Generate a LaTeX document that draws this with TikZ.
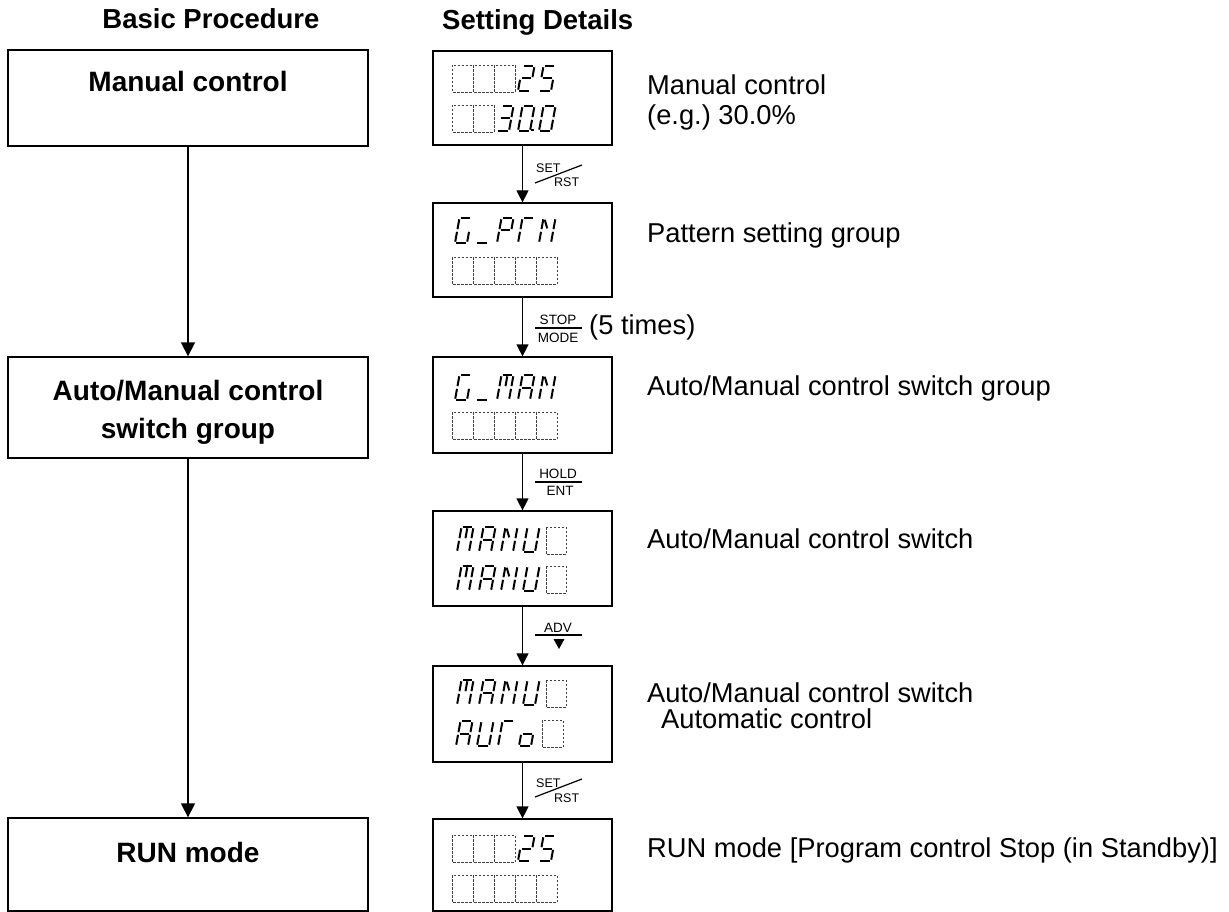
\documentclass[tikz,border=0pt]{standalone}
\usepackage{fontspec}
\setmainfont{Liberation Sans}
\usetikzlibrary{arrows.meta}
\frenchspacing
% seven-segment pieces (local coords: baseline at 0, top at -25)
\def\gsega{(4.3,-25)--(13.7,-25)}
\def\gsegb{(15,-23.7)--(15,-13.8)}
\def\gsegc{(15,-11.2)--(15,-1.3)}
\def\gsegd{(4.3,0)--(13.7,0)}
\def\gsege{(3,-11.2)--(3,-1.3)}
\def\gsegf{(3,-23.7)--(3,-13.8)}
\def\gsegg{(4.3,-12.5)--(13.7,-12.5)}
\def\gsegm{(9,-23.7)--(9,-13.8)}
\def\gsegn{(4.6,-23.2)--(8.6,-14.6)}
\newcommand{\glyph}[3]{%
  \begin{scope}[shift={(#1,#2+26)}, xslant=0.18]
    \foreach \s in {#3} {\edef\tmpseg{\noexpand\draw[segline] \csname gseg\s\endcsname;}\tmpseg}
  \end{scope}}
\newcommand{\dcell}[3]{\draw[dcellst] (#1,#2) rectangle ++(#3,27);}
\begin{document}
\begin{tikzpicture}[x=1pt,y=-1pt,
  lbox/.style={draw, line width=1.3pt, minimum width=360pt, inner sep=0pt},
  dbox/.style={draw, line width=1.2pt, minimum width=179pt, inner sep=0pt},
  hd/.style={font=\fontsize{27.5}{32}\selectfont\bfseries, inner sep=0pt},
  bt/.style={font=\fontsize{28}{34}\selectfont\bfseries, inner sep=0pt, anchor=base},
  lab/.style={font=\fontsize{27.3}{32}\selectfont, inner sep=0pt, anchor=base west},
  ks/.style={font=\fontsize{12.5}{14}\selectfont, inner sep=0pt},
  kl/.style={font=\fontsize{13.5}{15}\selectfont, inner sep=0pt, anchor=base},
  larr/.style={line width=1.3pt, -{Triangle[length=14pt,width=14pt]}},
  rarr/.style={line width=1.2pt, -{Triangle[length=12pt,width=12pt]}},
  segline/.style={line width=2pt, line cap=butt},
  dcellst/.style={draw=black!75, line width=0.8pt, dash pattern=on 2.5pt off 1.5pt},
  keyline/.style={line width=1.2pt}]
\useasboundingbox (0,0) rectangle (1229,912);

% headings
\node[hd, anchor=base] (h1) at (211,29) {Basic Procedure};
\node[hd, anchor=base west] (h2) at (442,30) {Setting Details};

% left column
\node[lbox, minimum height=96pt] (l1) at (188,98) {};
\node[lbox, minimum height=101pt] (l2) at (188,407.5) {};
\node[lbox, minimum height=93pt] (l3) at (188,864.5) {};
\node[bt] (t1) at (188,92) {Manual control};
\node[bt] (t2a) at (188,400) {Auto/Manual control};
\node[bt] (t2b) at (188,438) {switch group};
\node[bt] (t3) at (188,862) {RUN mode};
\draw[larr] (l1) -- (l2);
\draw[larr] (l2) -- (l3);

% right column boxes
\node[dbox, minimum height=94pt] (r1) at (522.5,98) {};
\node[dbox, minimum height=94pt] (r2) at (522.5,250) {};
\node[dbox, minimum height=96pt] (r3) at (522.5,405) {};
\node[dbox, minimum height=95pt] (r4) at (522.5,558.5) {};
\node[dbox, minimum height=96pt] (r5) at (522.5,714) {};
\node[dbox, minimum height=92pt] (r6) at (522.5,865) {};
\draw[rarr] (r1) -- (r2);
\draw[rarr] (r2) -- (r3);
\draw[rarr] (r3) -- (r4);
\draw[rarr] (r4) -- (r5);
\draw[rarr] (r5) -- (r6);

% display 1: ---25 / --30.0
\dcell{452}{65}{21}\dcell{473}{65}{21}\dcell{494}{65}{21}
\glyph{515}{65}{a,b,g,e,d}\glyph{536}{65}{a,f,g,c,d}
\dcell{452}{105}{21}\dcell{473}{105}{21}
\glyph{494}{105}{a,b,g,c,d}\glyph{515}{105}{a,b,c,d,e,f}\glyph{536}{105}{a,b,c,d,e,f}
\fill (531,128.8) rectangle (533.6,131.4);

% display 2: G_PTN
\glyph{452}{217}{a,f,e,d,c}\glyph{473}{217}{d}\glyph{494}{217}{a,b,f,g,e}\glyph{515}{217}{a,f,e}\glyph{536}{217}{f,e,b,c,n}
\dcell{452}{257}{21}\dcell{473}{257}{21}\dcell{494}{257}{21}\dcell{515}{257}{21}\dcell{536}{257}{21}

% display 3: G_MAN
\glyph{452}{374}{a,f,e,d,c}\glyph{473}{374}{d}\glyph{494}{374}{a,f,e,b,c,m}\glyph{515}{374}{a,b,c,e,f,g}\glyph{536}{374}{f,e,b,c,n}
\dcell{452}{412}{21}\dcell{473}{412}{21}\dcell{494}{412}{21}\dcell{515}{412}{21}\dcell{536}{412}{21}

% display 4: MANU / MANU
\glyph{454}{526}{a,f,e,b,c,m}\glyph{476}{526}{a,b,c,e,f,g}\glyph{498}{526}{f,e,b,c,n}\glyph{520}{526}{b,c,d,e,f}
\dcell{546}{527}{20}
\glyph{454}{565}{a,f,e,b,c,m}\glyph{476}{565}{a,b,c,e,f,g}\glyph{498}{565}{f,e,b,c,n}\glyph{520}{565}{b,c,d,e,f}
\dcell{546}{566}{20}

% display 5: MANU / AUTo
\glyph{454}{679}{a,f,e,b,c,m}\glyph{476}{679}{a,b,c,e,f,g}\glyph{498}{679}{f,e,b,c,n}\glyph{520}{679}{b,c,d,e,f}
\dcell{546}{680}{20}
\glyph{453}{720}{a,b,c,e,f,g}\glyph{474}{720}{b,c,d,e,f}\glyph{495}{720}{a,f,e}\glyph{516}{720}{c,d,e,g}
\dcell{542}{720}{21}

% display 6: ---25 / -----
\dcell{452}{835}{21}\dcell{473}{835}{21}\dcell{494}{835}{21}
\glyph{515}{835}{a,b,g,e,d}\glyph{536}{835}{a,f,g,c,d}
\dcell{452}{875}{21}\dcell{473}{875}{21}\dcell{494}{875}{21}\dcell{515}{875}{21}\dcell{536}{875}{21}

% key labels
\node[ks, anchor=base west] (k1a) at (536,173) {SET};
\node[ks, anchor=base west] (k1b) at (554,187) {RST};
\coordinate (k1s) at (535,183); \coordinate (k1e) at (582,165);
\draw[keyline] (k1s) -- (k1e);

\node[kl] (k2a) at (558,324) {STOP};
\node[kl] (k2b) at (558,342) {MODE};
\coordinate (k2s) at (535,328); \coordinate (k2e) at (582,328);
\draw[keyline] (k2s) -- (k2e);
\node[lab] (k2c) at (589,334) {(5 times)};

\node[kl] (k3a) at (558,478) {HOLD};
\node[kl] (k3b) at (560,495) {ENT};
\coordinate (k3s) at (535,482); \coordinate (k3e) at (582,482);
\draw[keyline] (k3s) -- (k3e);

\node[kl] (k4a) at (558,632) {ADV};
\coordinate (k4s) at (535,635); \coordinate (k4e) at (582,635);
\draw[keyline] (k4s) -- (k4e);
\fill (553.5,639) -- (564.5,639) -- (559,649) -- cycle;

\node[ks, anchor=base west] (k5a) at (536,787) {SET};
\node[ks, anchor=base west] (k5b) at (554,802) {RST};
\coordinate (k5s) at (535,797); \coordinate (k5e) at (582,779);
\draw[keyline] (k5s) -- (k5e);

% right labels
\node[lab] (d1a) at (647,95) {Manual control};
\node[lab] (d1b) at (647,125) {(e.g.) 30.0\%};
\node[lab] (d2) at (647,243) {Pattern setting group};
\node[lab] (d3) at (647,395) {Auto/Manual control switch group};
\node[lab] (d4) at (647,548) {Auto/Manual control switch};
\node[lab] (d5a) at (647,702) {Auto/Manual control switch};
\node[lab] (d5b) at (661,728) {Automatic control};
\node[lab] (d6) at (647,857) {RUN mode [Program control Stop (in Standby)]};
\end{tikzpicture}
\end{document}
